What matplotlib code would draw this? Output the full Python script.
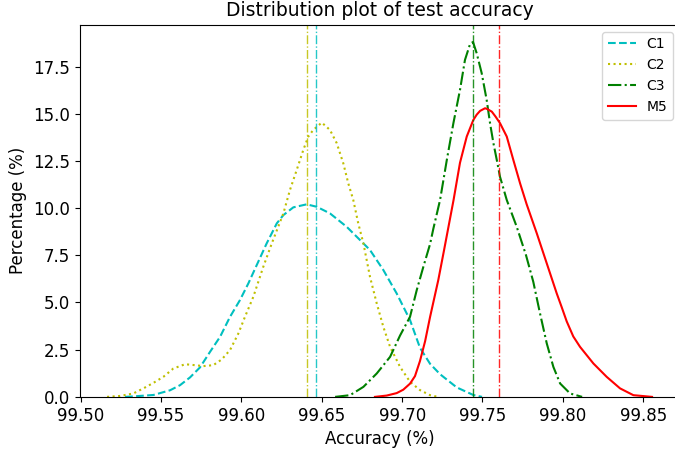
import numpy as np
import matplotlib
matplotlib.use('Agg')
import matplotlib.pyplot as plt

# KDE curves (accuracy %, density %)
c1_x = [99.5276, 99.5317, 99.5452, 99.5556, 99.5618, 99.5680, 99.5742, 99.5805, 99.5867,
        99.5929, 99.5991, 99.6043, 99.6157, 99.6220, 99.6261, 99.6323, 99.6406, 99.6469,
        99.6551, 99.6655, 99.6759, 99.6800, 99.6883, 99.6966, 99.7049, 99.7111, 99.7174,
        99.7236, 99.7340, 99.7443, 99.7497]
c1_y = [0.0, 0.02, 0.1, 0.35, 0.62, 1.03, 1.56, 2.39, 3.18,
        4.24, 5.13, 6.01, 8.13, 9.19, 9.63, 10.04, 10.2, 10.07,
        9.72, 9.01, 8.13, 7.78, 6.72, 5.48, 4.07, 2.6, 1.75,
        1.2, 0.5, 0.1, 0.0]

c2_x = [99.5164, 99.5245, 99.5327, 99.5390, 99.5452, 99.5514, 99.5576, 99.5649, 99.5711,
        99.5763, 99.5825, 99.5877, 99.5929, 99.5981, 99.6022, 99.6074, 99.6136, 99.6189,
        99.6261, 99.6302, 99.6344, 99.6385, 99.6416, 99.6447, 99.6500, 99.6551, 99.6593,
        99.6634, 99.6665, 99.6696, 99.6727, 99.6759, 99.6800, 99.6842, 99.6883, 99.6925,
        99.6987, 99.7049, 99.7111, 99.7174, 99.7223]
c2_y = [0.0, 0.05, 0.18, 0.45, 0.74, 1.06, 1.5, 1.73, 1.68,
        1.63, 1.68, 1.98, 2.48, 3.36, 4.24, 5.3, 6.89, 8.13,
        9.72, 10.96, 12.02, 13.08, 13.79, 14.14, 14.53, 14.14, 13.44,
        12.37, 11.31, 10.43, 9.19, 8.13, 6.36, 4.95, 3.71, 2.65,
        1.59, 0.8, 0.36, 0.09, 0.0]

c3_x = [99.6583, 99.6676, 99.6759, 99.6842, 99.6925, 99.6987, 99.7049, 99.7091, 99.7132,
        99.7174, 99.7194, 99.7236, 99.7278, 99.7319, 99.7360, 99.7391, 99.7423, 99.7441,
        99.7464, 99.7495, 99.7526, 99.7547, 99.7568, 99.7589, 99.7609, 99.7651, 99.7713,
        99.7771, 99.7816, 99.7858, 99.7900, 99.7941, 99.7983, 99.8045, 99.8120]
c3_y = [0.0, 0.09, 0.53, 1.24, 2.12, 3.25, 4.24, 5.66, 6.89,
        8.1, 8.9, 10.43, 12.55, 14.5, 16.26, 17.85, 18.7, 18.8,
        18.2, 17.15, 15.73, 14.5, 13.44, 12.55, 11.66, 10.43, 9.01,
        7.5, 6.1, 4.42, 2.83, 1.59, 0.71, 0.18, 0.0]

m5_x = [99.6831, 99.6904, 99.6966, 99.7007, 99.7049, 99.7080, 99.7111, 99.7143, 99.7174,
        99.7225, 99.7261, 99.7320, 99.7360, 99.7402, 99.7443, 99.7464, 99.7485, 99.7516,
        99.7529, 99.7558, 99.7581, 99.7609, 99.7651, 99.7692, 99.7734, 99.7775, 99.7838,
        99.7900, 99.7962, 99.7993, 99.8024, 99.8065, 99.8107, 99.8190, 99.8273, 99.8356,
        99.8439, 99.8555]
m5_y = [0.0, 0.07, 0.2, 0.38, 0.7, 1.1, 1.9, 2.95, 4.24,
        6.19, 7.78, 10.43, 12.4, 13.79, 14.67, 14.95, 15.15, 15.29,
        15.25, 15.11, 14.85, 14.5, 13.79, 12.55, 11.31, 10.2, 8.66,
        7.07, 5.48, 4.75, 4.0, 3.2, 2.65, 1.77, 1.06, 0.45,
        0.09, 0.0]

# mean accuracy of each model
means = {'C1': 99.6464, 'C2': 99.6406, 'C3': 99.7439, 'M5': 99.7601}

series = [('C1', c1_x, c1_y, 'c', '--'),
          ('C2', c2_x, c2_y, 'y', ':'),
          ('C3', c3_x, c3_y, 'g', '-.'),
          ('M5', m5_x, m5_y, 'r', '-')]

fig, ax = plt.subplots(figsize=(6.75, 4.51), dpi=100)
fig.subplots_adjust(left=0.1178, right=1.0074, bottom=0.12, top=0.945)

for name, xs, ys, col, ls in series:
    ax.plot(xs, ys, color=col, linestyle=ls, lw=1.5, label=name)
for name, xs, ys, col, ls in series:
    ax.axvline(means[name], color=col, linestyle='-.', lw=1, alpha=0.85)

ax.set_xlim(99.49925, 99.8729)
ax.set_ylim(0, 19.71)
ax.set_xticks(np.arange(99.50, 99.86, 0.05))
ax.set_yticks(np.arange(0, 18, 2.5))
ax.tick_params(labelsize=12)
ax.set_xlabel('Accuracy (%)', fontsize=12)
ax.set_ylabel('Percentage (%)', fontsize=12)
ax.set_title('Distribution plot of test accuracy', fontsize=13.5)
ax.legend(loc='upper right', fontsize=10)

fig.savefig('out.png', dpi=100)
